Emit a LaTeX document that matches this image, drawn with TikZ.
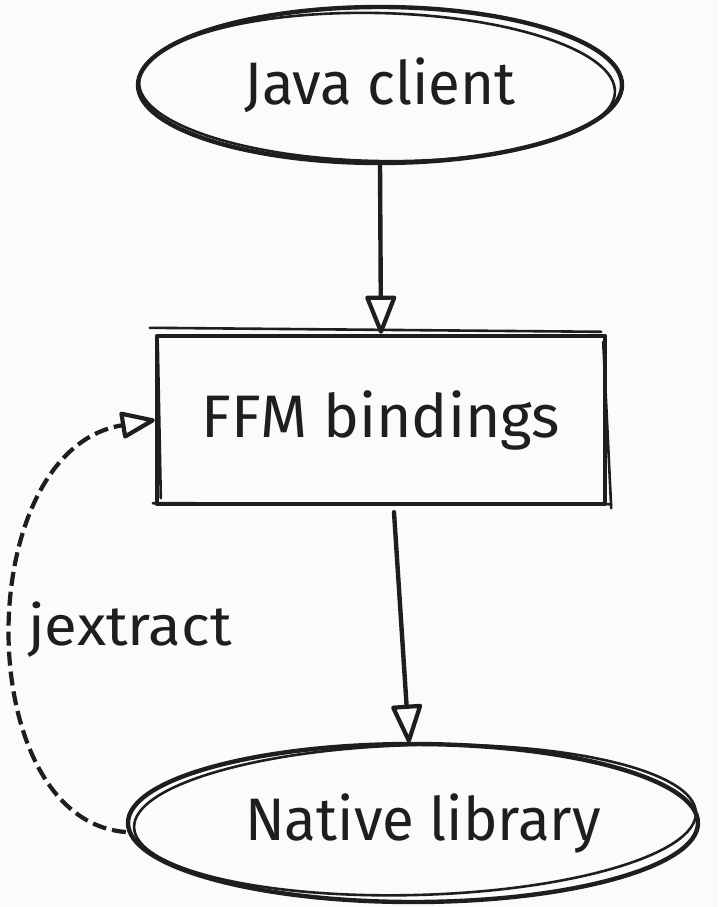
\documentclass[tikz,border=0pt]{standalone}
\usepackage{fontspec}
\setmainfont{Fira Sans}
\usetikzlibrary{arrows.meta,shapes.geometric,calc}
\definecolor{paper}{HTML}{FBFBFA}
\definecolor{ink}{HTML}{1E1E1E}
\newcommand{\handtext}[2][1]{\scalebox{#1}[1]{#2}}
\tikzset{
  sketch/.style={draw=ink, line width=4.4pt, line cap=round, line join=round},
  sketchthin/.style={draw=ink, line width=2.6pt, line cap=round},
  oval/.style={sketch, ellipse, inner sep=0pt, font=\fontsize{60}{72}\selectfont, text=ink},
  stepbox/.style={sketch, rectangle, inner sep=0pt, font=\fontsize{60}{72}\selectfont, text=ink},
  conn/.style={sketch, -{Triangle[open, length=42pt, width=32pt, line width=4.2pt, round]}},
  dashconn/.style={draw=ink, line width=4.2pt, dash pattern=on 14pt off 6pt,
    -{Triangle[open, length=38pt, width=28pt, line width=4.2pt, round]}},
  tag/.style={font=\fontsize{56}{66}\selectfont, text=ink, inner sep=0pt}
}
\begin{document}
\begin{tikzpicture}[x=1pt, y=-1pt]
\fill[paper] (0,0) rectangle (718,907);
\useasboundingbox (0,0) rectangle (718,907);

% main shapes
\node[oval, minimum width=484pt, minimum height=156pt] (java) at (380,85) {\handtext[0.97]{Java client}};
\node[stepbox, minimum width=448pt, minimum height=168pt] (ffm) at (381,420) {\handtext[1.01]{FFM bindings}};
\node[oval, minimum width=570pt, minimum height=158pt] (native) at (413,823) {\hspace{20pt}\handtext[0.97]{Native library}};

% second pencil strokes for the hand-drawn look
\draw[sketchthin] ($(java.center)+(-3,2)$) ellipse [x radius=238pt, y radius=74pt, rotate=-1.2];
\draw[sketchthin] ($(native.center)+(2,-3)$) ellipse [x radius=281pt, y radius=75pt, rotate=1.5];
\draw[sketchthin] ($(ffm.north west)+(-5,-6)$) -- ($(ffm.north east)+(-6,-2)$);
\draw[sketchthin] ($(ffm.north west)+(3,10)$) -- ($(ffm.south west)+(6,-8)$);
\draw[sketchthin] ($(ffm.north east)+(-4,8)$) -- ($(ffm.south east)+(4,2)$);
\draw[sketchthin] ($(ffm.south west)+(-2,-3)$) -- ($(ffm.south east)+(4,-2)$);

% connectors
\draw[conn] (java.south) -- (ffm.north);
\draw[conn] ($(ffm.south)+(13,6)$) -- ($(native.north)+(-4,1)$);
\draw[dashconn] ($(native.west)+(0,9)$) .. controls (-30,820) and (-30,450) .. (ffm.west);

\node[tag, anchor=base west] (jx) at (28,645) {\handtext[1.07]{jextract}};
\end{tikzpicture}
\end{document}
